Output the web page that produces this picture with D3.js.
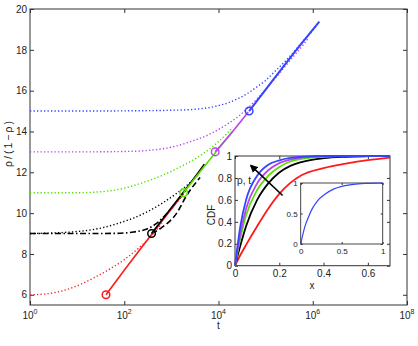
<!DOCTYPE html>
<html>
<head>
<meta charset="utf-8">
<script src="https://cdn.jsdelivr.net/npm/d3@7"></script>
<style>
  body { margin: 0; background: #fff; }
  text { font-family: "Liberation Sans", Arial, sans-serif; fill: #222; }
</style>
</head>
<body>
<div id="vis-holder"></div>
<script>
// main plot: rho/(1-rho) against t (log axis)
const tickY = [6, 8, 10, 12, 14, 16, 18, 20];
const tickExp = [0, 2, 4, 6, 8];

// dotted curves
const redDotT = [1, 2.5, 6.3, 12.6, 25, 50, 100, 200, 398, 631];
const redDotY = [6.0, 6.06, 6.27, 6.54, 6.88, 7.27, 7.72, 8.28, 8.95, 9.5];
const blackDotT = [1, 3.16, 10, 20, 40, 79, 158, 316, 631, 1259, 2512, 3981];
const blackDotY = [9.0, 9.03, 9.1, 9.18, 9.32, 9.52, 9.76, 10.08, 10.48, 10.95, 11.5, 11.95];
const greenDotT = [1, 10, 32, 63, 100, 158, 251, 398, 631, 1000, 1585, 2512, 3981, 6310, 10000, 15849, 19953];
const greenDotY = [11.0, 11.0, 11.05, 11.13, 11.22, 11.35, 11.5, 11.66, 11.84, 12.05, 12.28, 12.52, 12.8, 13.12, 13.5, 13.95, 14.2];
const purpleDotT = [1, 10, 100, 316, 631, 1000, 1585, 2512, 3981, 6310, 10000, 15849, 25119, 39811, 63096, 100000, 158489, 251189, 398107, 630957, 794328];
const purpleDotY = [13.0, 13.0, 13.02, 13.07, 13.15, 13.23, 13.35, 13.5, 13.66, 13.85, 14.1, 14.38, 14.7, 15.1, 15.55, 16.05, 16.6, 17.15, 17.7, 18.25, 18.55];
const blueDotT = [1, 10, 100, 1000, 2512, 3981, 6310, 10000, 15849, 25119, 39811, 63096, 100000, 158489, 251189, 398107, 630957, 1000000, 1258925];
const blueDotY = [15.0, 15.0, 15.01, 15.04, 15.07, 15.11, 15.17, 15.27, 15.4, 15.6, 15.84, 16.16, 16.5, 16.95, 17.4, 17.9, 18.45, 18.95, 19.25];

// black dash-dot and dashed curves
const blackDashDotT = [1, 10, 69, 158, 302, 501, 794, 1259, 1995];
const blackDashDotY = [9.0, 9.0, 9.01, 9.08, 9.22, 9.52, 9.97, 10.5, 11.1];
const blackDashT = [380, 631, 1288, 2138, 4074];
const blackDashY = [9.0, 9.3, 9.99, 10.89, 11.75];

// solid lines
const redSolidT = [41, 100, 380, 1000, 1778];
const redSolidY = [6.0, 7.2, 8.95, 10.2, 10.95];
const blackSolidT = [380, 1000, 2512, 5012];
const blackSolidY = [9.0, 10.26, 11.46, 12.4];
const greenSolidT = [1820, 3981, 10000, 19953];
const greenSolidY = [11.0, 12.0, 13.15, 14.0];
const purpleSolidT = [8511, 19953, 42658];
const purpleSolidY = [13.0, 14.0, 14.95];
const blueSolidT = [44668, 100000, 316228, 1380384];
const blueSolidY = [15.0, 16.05, 17.55, 19.38];

// start markers
const markT = [41, 380, 1820, 8511, 44668];
const markY = [6, 9, 11, 13, 15];

// inset: CDF against x
const cdfX = [0, 0.025, 0.05, 0.1, 0.15, 0.2, 0.25, 0.3, 0.4, 0.5, 0.6, 0.7];
const cdfRed = [0, 0.1, 0.19, 0.36, 0.52, 0.655, 0.755, 0.825, 0.89, 0.93, 0.962, 0.985];
const cdfBlack = [0, 0.19, 0.36, 0.6, 0.75, 0.85, 0.91, 0.945, 0.98, 0.993, 0.998, 1];
const cdfGreen = [0, 0.26, 0.46, 0.69, 0.82, 0.9, 0.95, 0.975, 0.993, 1, 1, 1];
const cdfPurple = [0, 0.3, 0.52, 0.75, 0.87, 0.935, 0.968, 0.985, 0.998, 1, 1, 1];
const cdfBlue = [0, 0.37, 0.6, 0.82, 0.92, 0.96, 0.982, 0.992, 1, 1, 1, 1];
const insetTickX = [0, 0.2, 0.4, 0.6];
const insetTickY = [0, 0.2, 0.4, 0.6, 0.8, 1];

// inner inset
const innerX = [0, 0.05, 0.1, 0.15, 0.2, 0.3, 0.4, 0.5, 0.6, 0.7, 0.8, 0.9, 1];
const innerY = [0, 0.28, 0.46, 0.6, 0.7, 0.82, 0.9, 0.945, 0.97, 0.985, 0.993, 0.998, 1];
const innerTicks = [0, 0.5, 1];

// arrow in inset (data coords)
const arrowFrom = [0.215, 0.64];
const arrowTo = [0.072, 0.913];

const colors = {red: "#ff1a1a", black: "#000000", green: "#55e000", purple: "#bb44f0", blue: "#3344ff"};

const w = 418, h = 346;
const svg = d3.select("#vis-holder").append("svg")
    .attr("width", w).attr("height", h);

const x = d3.scaleLog().domain([1, 1e8]).range([30, 407]);
const y = d3.scaleLinear().domain([5.5, 20]).range([305, 9]);

function drawLine(g, xs, ys, sx, sy, color, width, dash) {
    const pts = xs.map((v, i) => [v, ys[i]]);
    const line = d3.line().x(d => sx(d[0])).y(d => sy(d[1])).curve(d3.curveMonotoneX);
    const p = g.append("path").datum(pts)
        .attr("d", line)
        .attr("fill", "none")
        .attr("stroke", color)
        .attr("stroke-width", width);
    if (dash) p.attr("stroke-dasharray", dash);
    return p;
}

function styleAxis(g, size) {
    g.select(".domain").remove();
    g.selectAll("line").attr("stroke", axisColor);
    g.selectAll("text").attr("font-size", size).attr("fill", "#222")
        .attr("font-family", '"Liberation Sans", Arial, sans-serif');
}

// main axes box + ticks
const axisColor = "#333";
svg.append("rect").attr("x", 30).attr("y", 9).attr("width", 377).attr("height", 296)
    .attr("fill", "none").attr("stroke", axisColor).attr("stroke-width", 1);

const tickT = tickExp.map(e => Math.pow(10, e));
[
    svg.append("g").attr("transform", "translate(30,0)")
        .call(d3.axisLeft(y).tickValues(tickY).tickSizeInner(-4).tickSizeOuter(0).tickPadding(3)),
    svg.append("g").attr("transform", "translate(407,0)")
        .call(d3.axisRight(y).tickValues(tickY).tickSizeInner(-4).tickSizeOuter(0).tickFormat("")),
    svg.append("g").attr("transform", "translate(0,305)")
        .call(d3.axisBottom(x).tickValues(tickT).tickSizeInner(-4).tickSizeOuter(0).tickFormat("")),
    svg.append("g").attr("transform", "translate(0,9)")
        .call(d3.axisTop(x).tickValues(tickT).tickSizeInner(-4).tickSizeOuter(0).tickFormat(""))
].forEach(g => styleAxis(g, 10));

// x tick labels with superscripts
tickExp.forEach(e => {
    const t = svg.append("text").attr("x", x(Math.pow(10, e))).attr("y", 319)
        .attr("text-anchor", "middle").attr("font-size", 10);
    t.append("tspan").text("10");
    t.append("tspan").attr("dy", -5).attr("font-size", 7).text(e);
});
svg.append("text").attr("x", x(1e4)).attr("y", 329).attr("text-anchor", "middle")
    .attr("font-size", 10).text("t");
svg.append("text").attr("transform", "translate(12,143) rotate(-90)")
    .attr("text-anchor", "middle").attr("font-size", 10.5).attr("letter-spacing", 2)
    .text("ρ/(1−ρ)");

// main curves
const plot = svg.append("g");
const dot = "1.3,2.2";
drawLine(plot, redDotT, redDotY, x, y, colors.red, 1.3, dot);
drawLine(plot, blackDotT, blackDotY, x, y, colors.black, 1.4, dot);
drawLine(plot, greenDotT, greenDotY, x, y, colors.green, 1.4, dot);
drawLine(plot, purpleDotT, purpleDotY, x, y, colors.purple, 1.4, dot);
drawLine(plot, blueDotT, blueDotY, x, y, colors.blue, 1.4, dot);

drawLine(plot, blackDashDotT, blackDashDotY, x, y, colors.black, 1.6, "6,2.5,1.5,2.5");
drawLine(plot, blackDashT, blackDashY, x, y, colors.black, 1.6, "6,3");

drawLine(plot, redSolidT, redSolidY, x, y, colors.red, 1.6);
drawLine(plot, blackSolidT, blackSolidY, x, y, colors.black, 1.6);
drawLine(plot, greenSolidT, greenSolidY, x, y, colors.green, 1.6);
drawLine(plot, purpleSolidT, purpleSolidY, x, y, colors.purple, 1.6);
drawLine(plot, blueSolidT, blueSolidY, x, y, colors.blue, 2);

const markColors = [colors.red, colors.black, colors.green, colors.purple, colors.blue];
plot.selectAll("circle.mark").data(markT).enter().append("circle")
    .attr("class", "mark")
    .attr("cx", d => x(d))
    .attr("cy", (d, i) => y(markY[i]))
    .attr("r", 3.8)
    .attr("fill", "none")
    .attr("stroke", (d, i) => markColors[i])
    .attr("stroke-width", 1.5);

// inset
const ix = d3.scaleLinear().domain([0, 0.7]).range([235, 390]);
const iy = d3.scaleLinear().domain([0, 1]).range([265.7, 156]);
const inset = svg.append("g");
inset.append("rect").attr("x", 235).attr("y", 156).attr("width", 155).attr("height", 109.7)
    .attr("fill", "#fff").attr("stroke", axisColor).attr("stroke-width", 1);

[
    inset.append("g").attr("transform", "translate(0,265.7)")
        .call(d3.axisBottom(ix).tickValues(insetTickX).tickSizeInner(-3).tickSizeOuter(0).tickPadding(4)
            .tickFormat(d => d === 0 ? "0" : d3.format(".1f")(d))),
    inset.append("g").attr("transform", "translate(0,156)")
        .call(d3.axisTop(ix).tickValues(insetTickX).tickSizeInner(-3).tickSizeOuter(0).tickFormat("")),
    inset.append("g").attr("transform", "translate(235,0)")
        .call(d3.axisLeft(iy).tickValues(insetTickY).tickSizeInner(-3).tickSizeOuter(0).tickPadding(3)
            .tickFormat(d => (d === 0 || d === 1) ? String(d) : d3.format(".1f")(d))),
    inset.append("g").attr("transform", "translate(390,0)")
        .call(d3.axisRight(iy).tickValues(insetTickY).tickSizeInner(-3).tickSizeOuter(0).tickFormat(""))
].forEach(g => styleAxis(g, 10));
inset.append("text").attr("x", 312).attr("y", 289).attr("text-anchor", "middle")
    .attr("font-size", 10).text("x");
inset.append("text").attr("transform", "translate(215,215) rotate(-90)")
    .attr("text-anchor", "middle").attr("font-size", 10).text("CDF");

drawLine(inset, cdfX, cdfRed, ix, iy, colors.red, 1.8);
drawLine(inset, cdfX, cdfBlack, ix, iy, colors.black, 1.8);
drawLine(inset, cdfX, cdfGreen, ix, iy, colors.green, 1.8);
drawLine(inset, cdfX, cdfPurple, ix, iy, colors.purple, 1.8);
drawLine(inset, cdfX, cdfBlue, ix, iy, colors.blue, 1.8);

// arrow
const defs = svg.append("defs");
defs.append("marker").attr("id", "head")
    .attr("viewBox", "0 0 10 10").attr("refX", 8).attr("refY", 5)
    .attr("markerWidth", 5).attr("markerHeight", 5).attr("orient", "auto")
    .append("path").attr("d", "M0,0 L10,5 L0,10 z").attr("fill", "#000");
inset.append("line")
    .attr("x1", ix(arrowFrom[0])).attr("y1", iy(arrowFrom[1]))
    .attr("x2", ix(arrowTo[0])).attr("y2", iy(arrowTo[1]))
    .attr("stroke", "#000").attr("stroke-width", 1.6)
    .attr("marker-end", "url(#head)");
inset.append("text").attr("x", 237).attr("y", 184).attr("font-size", 10).text("ρ, t");

// inner inset
const jx = d3.scaleLinear().domain([0, 1]).range([300.7, 382.7]);
const jy = d3.scaleLinear().domain([0, 1]).range([244, 183]);
const inner = svg.append("g");
inner.append("rect").attr("x", 300.7).attr("y", 183).attr("width", 82).attr("height", 61)
    .attr("fill", "#fff").attr("stroke", axisColor).attr("stroke-width", 0.9);
[
    inner.append("g").attr("transform", "translate(0,244)")
        .call(d3.axisBottom(jx).tickValues(innerTicks).tickSizeInner(-2).tickSizeOuter(0).tickPadding(4)
            .tickFormat(d => String(d))),
    inner.append("g").attr("transform", "translate(0,183)")
        .call(d3.axisTop(jx).tickValues(innerTicks).tickSizeInner(-2).tickSizeOuter(0).tickFormat("")),
    inner.append("g").attr("transform", "translate(300.7,0)")
        .call(d3.axisLeft(jy).tickValues(innerTicks).tickSizeInner(-2).tickSizeOuter(0).tickPadding(3)
            .tickFormat(d => String(d))),
    inner.append("g").attr("transform", "translate(382.7,0)")
        .call(d3.axisRight(jy).tickValues(innerTicks).tickSizeInner(-2).tickSizeOuter(0).tickFormat(""))
].forEach(g => styleAxis(g, 8));
drawLine(inner, innerX, innerY, jx, jy, colors.blue, 1.2);
</script>
</body>
</html>
